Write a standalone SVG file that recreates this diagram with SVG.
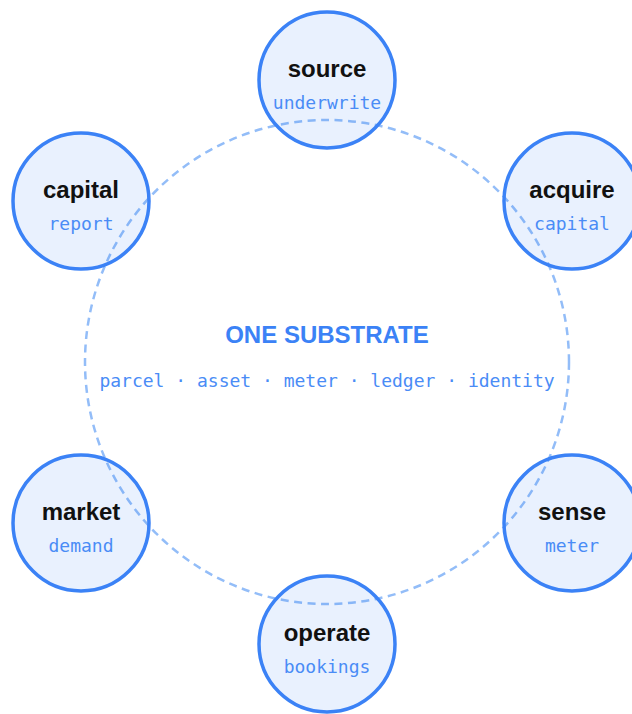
<svg xmlns="http://www.w3.org/2000/svg" width="632" height="714" viewBox="0 0 632 714">
  <style>
    .ring { fill: none; stroke: #93bdf8; stroke-width: 2.5; stroke-dasharray: 8 5.5; }
    .node circle { fill: rgba(59,130,246,0.11); stroke: #3b82f6; stroke-width: 3.5; }
    .title { font-family: "Liberation Sans", Arial, sans-serif; font-weight: bold; font-size: 24px; fill: #111111; text-anchor: middle; }
    .sub { font-family: "DejaVu Sans Mono", "Liberation Mono", monospace; font-size: 18px; fill: #4a8cf6; text-anchor: middle; }
    .hub-title { font-family: "Liberation Sans", Arial, sans-serif; font-weight: bold; font-size: 24px; fill: #3b82f6; text-anchor: middle; }
    .hub-sub { font-family: "DejaVu Sans Mono", "Liberation Mono", monospace; font-size: 18px; fill: #4a8cf6; text-anchor: middle; }
  </style>

  <!-- shared substrate ring -->
  <g id="connectors">
    <circle class="ring" cx="327" cy="362" r="242"/>
  </g>

  <g id="hub">
    <text class="hub-title" x="327" y="343">ONE SUBSTRATE</text>
    <text class="hub-sub" x="327" y="387">parcel · asset · meter · ledger · identity</text>
  </g>

  <g id="source" class="node">
    <circle cx="327" cy="80" r="68"/>
    <text class="title" x="327" y="77">source</text>
    <text class="sub" x="327" y="109">underwrite</text>
  </g>

  <g id="acquire" class="node">
    <circle cx="572" cy="201" r="68"/>
    <text class="title" x="572" y="198">acquire</text>
    <text class="sub" x="572" y="230">capital</text>
  </g>

  <g id="sense" class="node">
    <circle cx="572" cy="523" r="68"/>
    <text class="title" x="572" y="520">sense</text>
    <text class="sub" x="572" y="552">meter</text>
  </g>

  <g id="operate" class="node">
    <circle cx="327" cy="644" r="68"/>
    <text class="title" x="327" y="641">operate</text>
    <text class="sub" x="327" y="673">bookings</text>
  </g>

  <g id="market" class="node">
    <circle cx="81" cy="523" r="68"/>
    <text class="title" x="81" y="520">market</text>
    <text class="sub" x="81" y="552">demand</text>
  </g>

  <g id="capital" class="node">
    <circle cx="81" cy="201" r="68"/>
    <text class="title" x="81" y="198">capital</text>
    <text class="sub" x="81" y="230">report</text>
  </g>
</svg>
